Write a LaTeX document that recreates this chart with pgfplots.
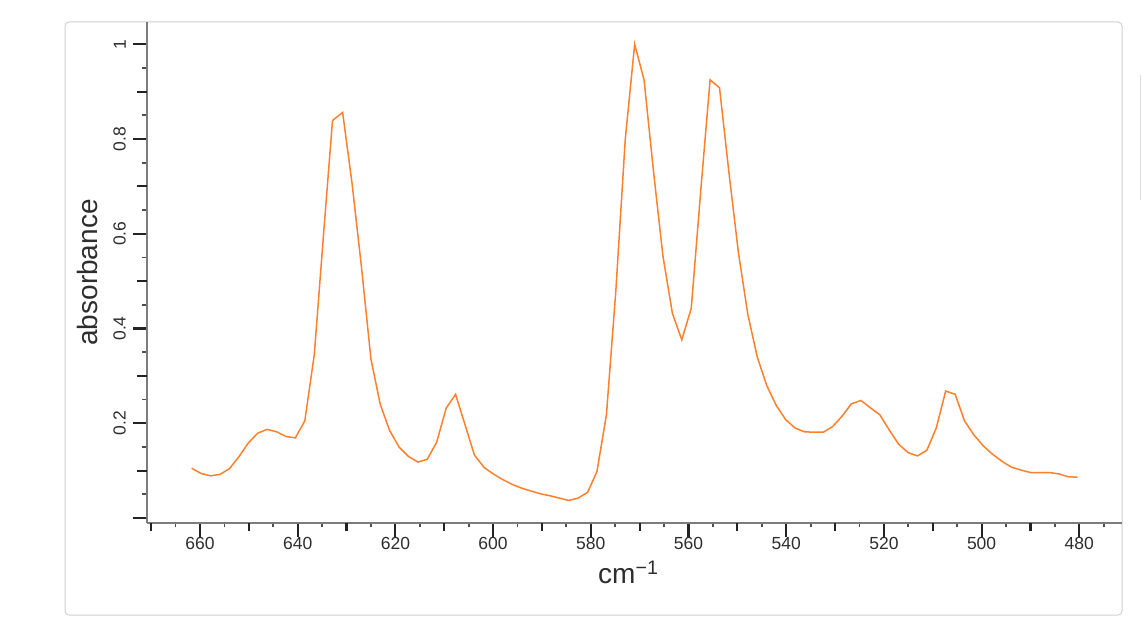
\documentclass[border=0pt]{standalone}
\usepackage{fontspec}
\setmainfont{Liberation Sans}
\usepackage{pgfplots}
\pgfplotsset{compat=1.18}

\definecolor{specorange}{RGB}{255,128,44}
\definecolor{axisgray}{RGB}{125,125,125}
\definecolor{tickdark}{RGB}{35,35,35}
\definecolor{labeldark}{RGB}{45,45,45}
\definecolor{panelgray}{RGB}{208,208,208}

\begin{document}
\begin{tikzpicture}
\useasboundingbox (0pt,0pt) rectangle (1142pt,637pt);
\draw[panelgray, line width=1pt, rounded corners=4pt] (65pt,22pt) rectangle (1122pt,615pt);
\draw[panelgray!70, line width=1pt] (1140pt,437pt) -- (1140pt,562pt);
\begin{axis}[
    at={(147pt,114pt)}, anchor=south west,
    scale only axis,
    width=975pt, height=501pt,
    x dir=reverse,
    xmin=471.26, xmax=670.85,
    ymin=-0.0106, ymax=1.047,
    axis x line=bottom,
    axis y line=left,
    axis line style={axisgray, line width=2pt, -},
    tick align=outside,
    major tick length=14pt,
    minor tick length=4.5pt,
    major tick style={tickdark, line width=2.2pt},
    minor tick style={tickdark!80, line width=1.8pt},
    xtick={480,500,520,540,560,580,600,620,640,660},
    minor xtick={475,485,495,505,515,525,535,545,555,565,575,585,595,605,615,625,635,645,655,665},
    extra x ticks={490,510,530,550,570,590,610,630,650,670},
    extra x tick labels={},
    extra x tick style={major tick length=8pt},
    ytick={0,0.2,0.4,0.6,0.8,1},
    yticklabels={,0.2,0.4,0.6,0.8,1},
    minor ytick={0.05,0.15,0.25,0.35,0.45,0.55,0.65,0.75,0.85,0.95},
    extra y ticks={0.1,0.3,0.5,0.7,0.9},
    extra y tick labels={},
    extra y tick style={major tick length=10pt},
    /pgf/number format/assume math mode=true,
    xticklabel style={font=\fontsize{17.5}{20}\selectfont, text=labeldark, anchor=north, inner sep=0pt},
    yticklabel style={font=\fontsize{17.5}{20}\selectfont, text=labeldark, rotate=90, anchor=south, inner sep=0pt},
    yticklabel shift=7pt,
    xlabel={cm\textsuperscript{−1}},
    ylabel={absorbance},
    every axis x label/.style={at={(axis description cs:0.4626,-0.1204)}, anchor=base west,
        font=\fontsize{28}{32}\selectfont, text=labeldark, inner sep=0pt},
    every axis y label/.style={at={(axis description cs:-0.0512,0.5)}, anchor=base, rotate=90,
        font=\fontsize{28}{32}\selectfont, text=labeldark, inner sep=0pt},
    clip=false,
]
\addplot[specorange, line width=1.5pt] coordinates {
(661.7,0.105) (659.8,0.094) (657.85,0.089) (655.9,0.092) (653.98,0.104)
(652.05,0.129) (650.13,0.158) (648.2,0.179) (646.26,0.187) (644.33,0.182)
(642.41,0.172) (640.48,0.169) (638.54,0.205) (636.6,0.345) (634.7,0.60)
(632.87,0.839) (630.8,0.856) (628.87,0.706) (626.95,0.530) (625.0,0.335)
(623.1,0.240) (621.2,0.185) (619.27,0.150) (617.34,0.130) (615.4,0.118)
(613.47,0.124) (611.55,0.160) (609.6,0.232) (607.68,0.261) (605.75,0.197)
(603.83,0.133) (601.88,0.107) (599.96,0.093) (598.03,0.081) (596.1,0.071)
(594.18,0.063) (592.24,0.057) (590.31,0.051) (588.38,0.047) (586.46,0.042)
(584.51,0.037) (582.59,0.042) (580.66,0.054) (578.74,0.098) (576.8,0.218)
(574.87,0.48) (572.94,0.80) (571.02,1.0) (569.1,0.925) (567.15,0.73)
(565.22,0.552) (563.3,0.432) (561.37,0.376) (559.43,0.443) (557.5,0.69)
(555.58,0.925) (553.65,0.908) (551.73,0.73) (549.78,0.56) (547.86,0.43)
(545.93,0.34) (544.0,0.28) (542.06,0.238) (540.14,0.208) (538.21,0.190)
(536.29,0.182) (534.36,0.181) (532.41,0.181) (530.49,0.193) (528.56,0.215)
(526.64,0.241) (524.7,0.248) (522.82,0.233) (520.85,0.218) (518.92,0.186)
(517.0,0.156) (515.06,0.138) (513.13,0.131) (511.2,0.143) (509.28,0.19)
(507.35,0.268) (505.41,0.261) (503.5,0.205) (501.55,0.175) (499.63,0.152)
(497.7,0.134) (495.76,0.119) (493.83,0.107) (491.9,0.101) (489.98,0.096)
(488.04,0.096) (486.11,0.096) (484.18,0.093) (482.26,0.087) (480.33,0.086)
};
\end{axis}
\end{tikzpicture}
\end{document}
